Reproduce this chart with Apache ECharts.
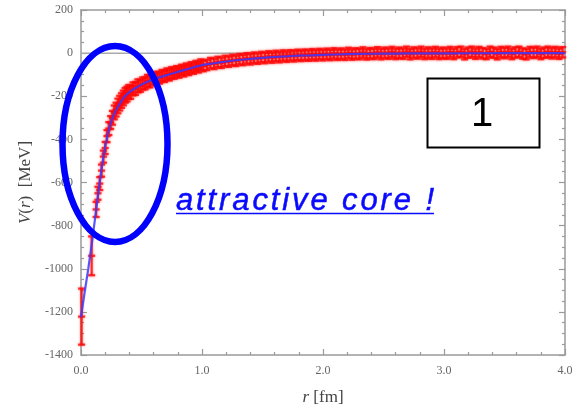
<!DOCTYPE html>
<html><head><meta charset="utf-8">
<script src="https://cdn.jsdelivr.net/npm/echarts@6/dist/echarts.min.js"></script>
<style>html,body{margin:0;padding:0;background:#fff}#c{width:587px;height:411px}</style>
</head><body><div id="c"></div>
<script>
// ---- data ----
const rPts = [0.005,0.088,0.125,0.14,0.155,0.17,0.185,0.2,0.215,0.23,0.245,0.26,0.275,0.29,0.305,0.32,0.335,0.35,0.365,0.38,0.395,
0.41,0.43,0.45,0.47,0.49,0.51,0.53,0.55,0.57,0.59,0.61,0.63,0.65,0.67,0.69,0.71,0.73,0.75,0.77,0.79,0.81,0.83,0.85,0.87,0.89,0.91,0.93,0.95,0.97,0.99,1.01,
1.04,1.07,1.10,1.13,1.16,1.19,1.22,1.25,1.28,1.31,1.34,1.37,1.40,1.43,1.46,1.49,1.52,1.55,1.58,1.61,1.64,1.67,1.70,1.73,1.76,1.79,1.82,1.85,1.88,1.91,1.94,1.97,
2.00,2.03,2.06,2.09,2.12,2.15,2.18,2.21,2.24,2.27,2.30,2.33,2.36,2.39,2.42,2.45,2.48,2.51,2.54,2.57,2.60,2.63,2.66,2.69,2.72,2.75,2.78,2.81,2.84,2.87,2.90,2.93,2.96,2.99,
3.02,3.05,3.08,3.11,3.14,3.17,3.20,3.23,3.26,3.29,3.32,3.35,3.38,3.41,3.44,3.47,3.50,3.53,3.56,3.59,3.62,3.65,3.68,3.71,3.74,3.77,3.80,3.83,3.86,3.89,3.92,3.95,3.98];
const vPts = [-1222,-940,-725,-650,-605,-545,-480,-440,-385,-350,-322,-300,-275,-262,-245,-232,-220,-208,-196,-190,-180,
-182,-166,-164,-152,-152,-141,-140,-129,-131,-120,-122,-112,-115,-104,-108,-97,-101,-91,-95,-84,-90,-78,-84,-72,-78,-66,-72,-60,-66,-53,-60,
-55,-46,-50,-41,-45,-36,-40,-32,-36,-28,-32,-24,-29,-21,-26,-18,-23,-15,-21,-13,-19,-11,-17,-10,-15,-8,-13,-7,-12,-5,-11,-4,
-10,-3,-9,-1,-8,-2,-8,1,-7,-1,-5,3,-6,0,-4,4,-5,2,-3,5,-4,2,-3,6,-5,3,-2,6,-4,3,-3,5,-4,2,
-3,5,-4,4,6,-5,2,6,-3,5,-1,-4,6,2,-5,5,0,6,-4,3,6,-2,-5,5,1,6,-4,2,6,-1,5,-3,4];
const ePts = [130,90,35,30,30,28,28,28,28,30,30,32,32,32,34,34,34,34,34,34,32,
30,30,30,30,28,28,28,28,28,26,26,26,26,26,26,26,26,26,24,24,24,24,24,24,24,24,24,24,24,24,24,
24,24,24,24,24,24,24,24,24,24,24,24,24,24,24,24,24,24,24,24,24,24,24,24,24,24,24,24,24,24,24,24,
24,24,24,24,24,24,24,24,24,24,24,24,24,24,24,24,24,24,24,24,24,24,24,24,24,24,24,24,24,24,24,24,24,24,
24,24,24,24,24,24,24,24,24,24,24,24,24,24,24,24,24,24,24,24,24,24,24,24,24,24,24,24,24,24,24,24,24];
const rFit = [0.0,0.03,0.06,0.09,0.12,0.15,0.18,0.21,0.24,0.27,0.30,0.33,0.36,0.40,0.45,0.50,0.55,0.60,0.70,0.80,0.90,1.00,1.10,1.20,1.30,1.40,1.50,1.60,1.70,1.80,1.90,2.00,2.20,2.40,2.60,2.80,3.00,3.50,4.00];
const vFit = [-1225,-1110,-1000,-880,-750,-620,-500,-405,-335,-287,-253,-226,-202,-181,-162,-146,-133,-121,-103,-87,-71,-56,-47,-39,-32,-27,-22,-18,-15,-12,-10,-8,-5,-3,-2,-1,-1,0,0];
const zeroR = [0, 4];
const zeroV = [0, 0];
const xTickLabels = ['0.0','1.0','2.0','3.0','4.0'];

const serif = '"Liberation Serif", "Times New Roman", serif';
const chart = echarts.init(document.getElementById('c'), null, {renderer:'canvas'});

const errData = rPts.map((r,i)=>[r, vPts[i], ePts[i]]);
const fitData = rFit.map((r,i)=>[r, vFit[i]]);
const zeroData = zeroR.map((r,i)=>[r, zeroV[i]]);

const axisColor = '#9a9a9a';
function xAx(pos, showLabel){
  return {type:'value', min:0, max:4, interval:1, position:pos,
    axisLine:{show:true, onZero:false, lineStyle:{color:axisColor, width:1.5}},
    axisTick:{show:true, inside:true, length:6, lineStyle:{color:axisColor, width:1.2}},
    minorTick:{show:true, splitNumber:5, length:3, lineStyle:{color:axisColor, width:1.2}},
    splitLine:{show:false},
    axisLabel:{show:showLabel, margin:10, color:'#666', fontFamily:serif, fontSize:12,
      formatter:(v)=> xTickLabels[Math.round(v)]},
    name: showLabel ? '{i|r} [fm]' : '', nameLocation:'middle', nameGap:34,
    nameTextStyle:{fontFamily:serif, fontSize:17, color:'#444', rich:{i:{fontFamily:serif, fontStyle:'italic', fontSize:17, color:'#444'}}}
  };
}
function yAx(pos, showLabel){
  return {type:'value', min:-1400, max:200, interval:200, position:pos,
    axisLine:{show:true, onZero:false, lineStyle:{color:axisColor, width:1.5}},
    axisTick:{show:true, inside:true, length:6, lineStyle:{color:axisColor, width:1.2}},
    minorTick:{show:true, splitNumber:4, length:3, lineStyle:{color:axisColor, width:1.2}},
    splitLine:{show:false},
    axisLabel:{show:showLabel, margin:8, color:'#666', fontFamily:serif, fontSize:12,
      formatter:(v)=> String(v)},
    name: showLabel ? '{i|V}({i|r})  [MeV]' : '', nameLocation:'middle', nameGap:41,
    nameTextStyle:{fontFamily:serif, fontSize:17, color:'#444', rich:{i:{fontFamily:serif, fontStyle:'italic', fontSize:17, color:'#444'}}}
  };
}

// per-character placement for the spaced annotation
const annText = 'attractive core !';
const annFont = 'italic 31px "Liberation Sans", Arial, sans-serif';
const cv = document.createElement('canvas').getContext('2d');
cv.font = annFont;
const chars = annText.split('');
const widths = chars.map(ch=>cv.measureText(ch).width);
const totalW = widths.reduce((a,b)=>a+b,0);
const x0 = 176, x1 = 434;
const sp = (x1 - x0 - totalW) / (chars.length - 1);
let cx = x0;
const annEls = [];
chars.forEach((ch,i)=>{
  if (ch !== ' ') annEls.push({type:'text', x:cx, y:217, z:101,
    style:{text:ch, font:annFont, fill:'#0a0aff', stroke:'#0a0aff', lineWidth:0.5, textAlign:'left', align:'left', textVerticalAlign:'bottom', verticalAlign:'bottom'}});
  cx += widths[i] + sp;
});

chart.setOption({
  animation:false,
  backgroundColor:'#fff',
  grid:{left:81, right:22, top:10, bottom:50, containLabel:false},
  xAxis:[xAx('bottom', true), xAx('top', false)],
  yAxis:[yAx('left', true), yAx('right', false)],
  series:[
    {type:'line', data:zeroData, symbol:'none', lineStyle:{color:'#aaaaaa', width:1.5}, z:1, silent:true},
    {type:'custom', data:errData, z:2, clip:false,
      encode:{x:0, y:1},
      renderItem:function(params, api){
        const r = api.value(0), v = api.value(1), e = api.value(2);
        const c = api.coord([r, v]);
        const t = api.coord([r, v + e]);
        const b = api.coord([r, v - e]);
        const w = 3.5;
        const st = {stroke:'#ff0a0a', lineWidth:2.2, opacity:0.8, shadowBlur:2.5, shadowColor:'rgba(255,0,0,0.7)'};
        return {type:'group', children:[
          {type:'line', shape:{x1:c[0], y1:t[1], x2:c[0], y2:b[1]}, style:st},
          {type:'line', shape:{x1:c[0]-w, y1:t[1], x2:c[0]+w, y2:t[1]}, style:st},
          {type:'line', shape:{x1:c[0]-w, y1:b[1], x2:c[0]+w, y2:b[1]}, style:st},
          {type:'line', shape:{x1:c[0]-w, y1:c[1], x2:c[0]+w, y2:c[1]}, style:st}
        ]};
      }},
    {type:'line', data:fitData, symbol:'none', smooth:0.3, lineStyle:{color:'#3a3aff', width:2.2, opacity:0.85}, z:3}
  ],
  graphic:[
    {type:'ellipse', shape:{cx:115, cy:144, rx:52.5, ry:98}, z:100,
      style:{fill:'none', stroke:'#0000ff', lineWidth:6.5}},
    {type:'rect', shape:{x:427.5, y:78.5, width:112, height:69}, z:100,
      style:{fill:'#fff', stroke:'#000', lineWidth:2}},
    {type:'text', x:482, y:115, z:101,
      style:{text:'1', font:'40px "Liberation Sans", Arial, sans-serif', fill:'#000', textAlign:'center', align:'center', textVerticalAlign:'middle', verticalAlign:'middle'}},
    ...annEls,
    {type:'line', shape:{x1:176, y1:213.5, x2:434, y2:213.5}, z:101, style:{stroke:'#0a0aff', lineWidth:1.5}}
  ]
});
</script>
</body></html>
